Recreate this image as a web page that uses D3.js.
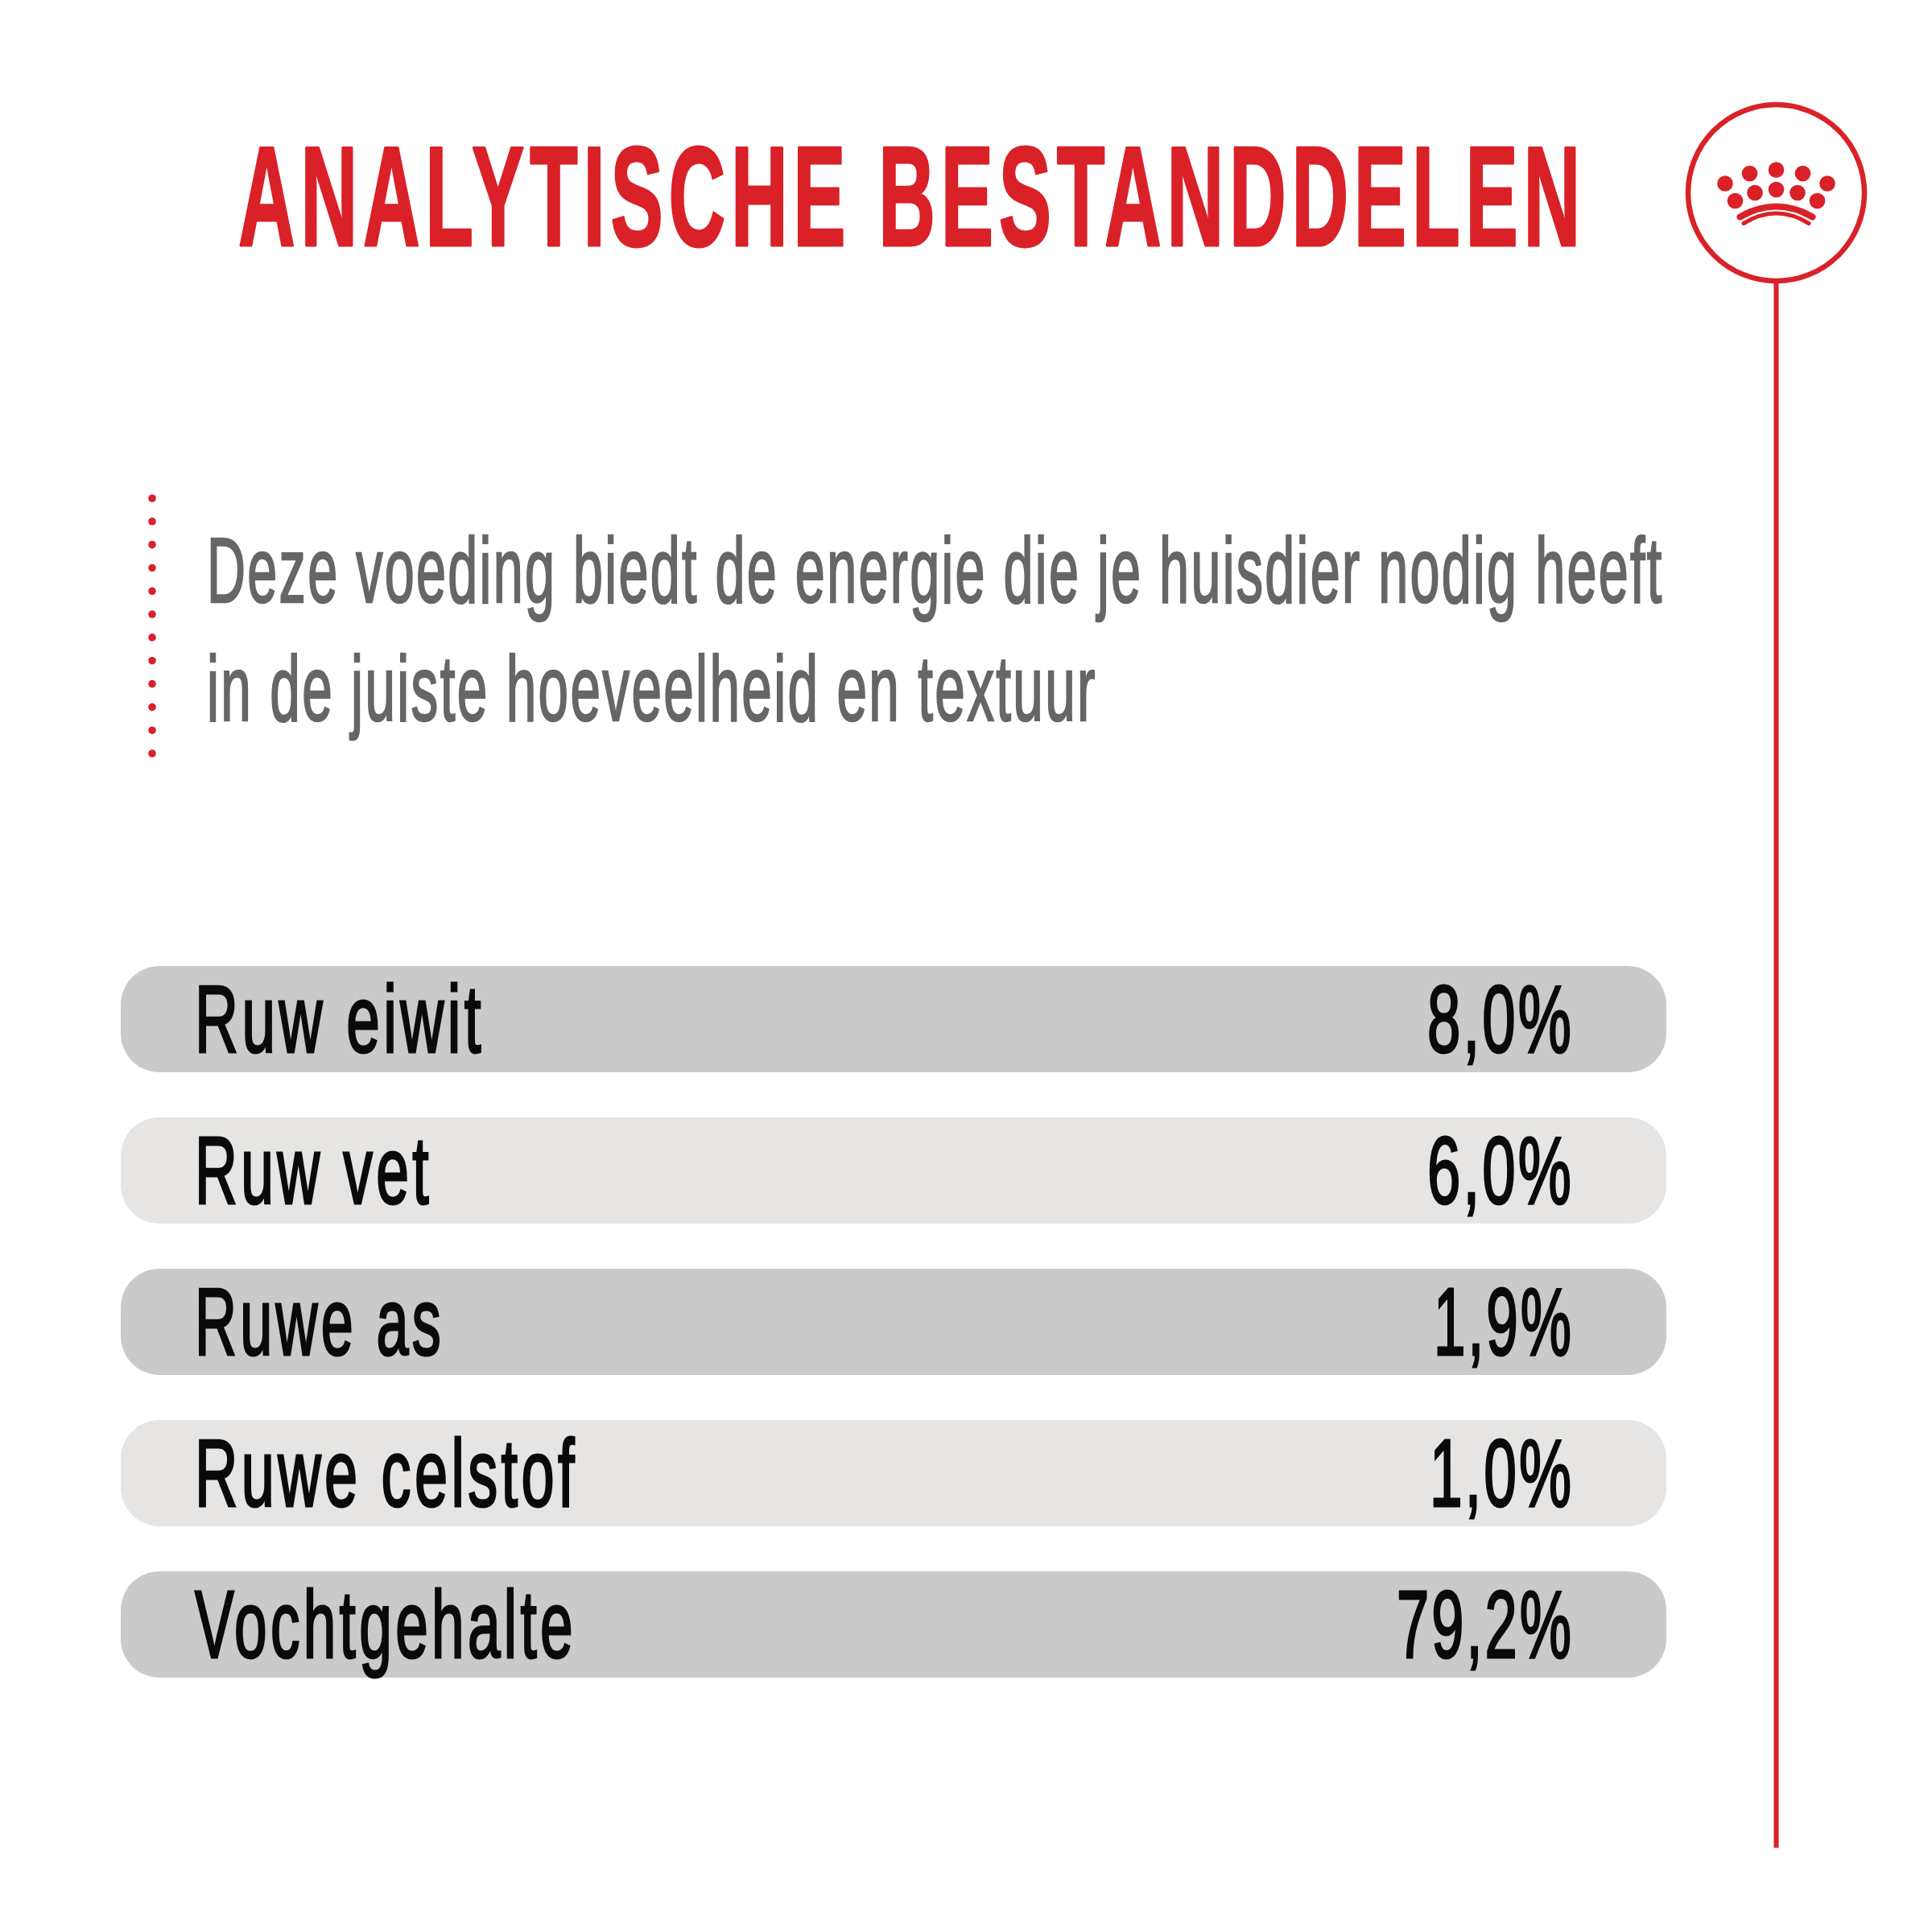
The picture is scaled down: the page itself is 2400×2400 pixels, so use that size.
<!DOCTYPE html>
<html>
<head>
<meta charset="utf-8">
<script src="https://cdnjs.cloudflare.com/ajax/libs/d3/7.8.5/d3.min.js"></script>
<style>
  html, body { margin: 0; padding: 0; background: #fff; }
  svg { display: block; }
</style>
</head>
<body>
<div id="chart"></div>
<script>
var titleText = "ANALYTISCHE BESTANDDELEN"
var introLines = ["Deze voeding biedt de energie die je huisdier nodig heeft", "in de juiste hoeveelheid en textuur"]
var categories = ["Ruw eiwit", "Ruw vet", "Ruwe as", "Ruwe celstof", "Vochtgehalte"]
var values = [8.0, 6.0, 1.9, 1.0, 79.2]

var red = "#da2128"
var font = "'Liberation Sans Narrow','Liberation Sans',sans-serif"

//values are written with a dutch comma
var fmt = d3.formatLocale({decimal: ",", thousands: ".", grouping: [3], currency: ["", ""]}).format(".1f")

var svg = d3.select("#chart").append("svg")
            .attr("width", 2400)
            .attr("height", 2400)
            .style("background", "#fff")

//rows, 188px apart with a 132px pill
var y = d3.scaleBand()
          .domain(categories)
          .range([1200, 2084])
          .paddingInner(56 / 188)

var dotY = d3.scalePoint()
             .domain(d3.range(12))
             .range([619, 936])

//no condensed din here, so squeeze each text to the width it has in the reference
function fitText(selection, xOf, yOf, widthOf) {
  selection.attr("transform", function(d, i){
    var sx = widthOf(d, i) / this.getComputedTextLength()
    return "translate(" + xOf(d, i) + "," + yOf(d, i) + ") scale(" + sx + ",1)"
  })
}

//title
svg.append("text").text(titleText)
   .style("font-family", font)
   .style("font-weight", "700")
   .style("font-size", "176px")
   .style("letter-spacing", "12px")
   .style("fill", red)
   .style("stroke", red)
   .style("stroke-width", 3)
   .style("stroke-linejoin", "round")
   .call(fitText, function(){ return 296 }, function(){ return 305 }, function(){ return 1674 })

//dotted rule next to the intro
svg.append("g").selectAll("circle").data(dotY.domain())
   .enter()
   .append("circle")
   .attr("cx", 189)
   .attr("cy", function(d){ return dotY(d) })
   .attr("r", 4.8)
   .style("fill", "#dc1f2d")

//intro text
var introWidths = [1810, 1106]
svg.append("g").selectAll("text").data(introLines)
   .enter()
   .append("text")
   .text(function(d){ return d })
   .style("font-family", font)
   .style("font-size", "115px")
   .style("letter-spacing", "4px")
   .style("fill", "#676666")
   .style("stroke", "#676666")
   .style("stroke-width", 2.5)
   .call(fitText, function(){ return 257 }, function(d, i){ return 748 + i * 147 }, function(d, i){ return introWidths[i] })

//table pills
svg.append("g").selectAll("rect").data(categories)
   .enter()
   .append("rect")
   .attr("x", 150)
   .attr("y", function(d){ return y(d) })
   .attr("width", 1920)
   .attr("height", y.bandwidth())
   .attr("rx", 48)
   .attr("ry", 48)
   .style("fill", function(d, i){ return i % 2 == 0 ? "#cbcacb" : "#e6e5e4" })

var labelWidths = [360, 295, 310, 476, 474]
svg.append("g").selectAll("text").data(categories)
   .enter()
   .append("text")
   .text(function(d){ return d })
   .style("font-family", font)
   .style("font-size", "118px")
   .style("letter-spacing", "7px")
   .style("fill", "#0a0a0a")
   .style("stroke", "#0a0a0a")
   .style("stroke-width", 3)
   .call(fitText, function(){ return 242 }, function(d){ return y(d) + 107 }, function(d, i){ return labelWidths[i] })

var valueStarts = [1773, 1773, 1781, 1776, 1735]
svg.append("g").selectAll("text").data(values)
   .enter()
   .append("text")
   .text(function(d){ return fmt(d) + "%" })
   .style("font-family", font)
   .style("font-size", "118px")
   .style("letter-spacing", "5px")
   .style("fill", "#0a0a0a")
   .style("stroke", "#0a0a0a")
   .style("stroke-width", 3)
   .call(fitText, function(d, i){ return valueStarts[i] }, function(d, i){ return y(categories[i]) + 107 }, function(d, i){ return 1955 - valueStarts[i] })

//crown badge and the long line under it
var badge = svg.append("g").attr("transform", "translate(2206.5,239.5)")

badge.append("line")
     .attr("x1", 0)
     .attr("y1", 110)
     .attr("x2", 0)
     .attr("y2", 2056)
     .style("stroke", red)
     .style("stroke-width", 6)

badge.append("circle")
     .attr("r", 109.5)
     .style("fill", "#fff")
     .style("stroke", red)
     .style("stroke-width", 6.5)

var crownDots = [[-63.5,-11.5],[-33,-24],[0,-28.5],[33,-24],[63.5,-11.5],
                 [-51,10],[-26.5,0],[0,-4],[26.5,0],[51,10]]

badge.append("g").selectAll("circle").data(crownDots)
     .enter()
     .append("circle")
     .attr("cx", function(d){ return d[0] })
     .attr("cy", function(d){ return d[1] })
     .attr("r", 9.8)
     .style("fill", red)

badge.append("path")
     .attr("d", "M-45,30Q0,4 45,30")
     .style("fill", "none")
     .style("stroke", red)
     .style("stroke-width", 8)
     .style("stroke-linecap", "round")

badge.append("path")
     .attr("d", "M-40.5,38Q0,13 40.5,38")
     .style("fill", "none")
     .style("stroke", red)
     .style("stroke-width", 5)
     .style("stroke-linecap", "round")
</script>
</body>
</html>
